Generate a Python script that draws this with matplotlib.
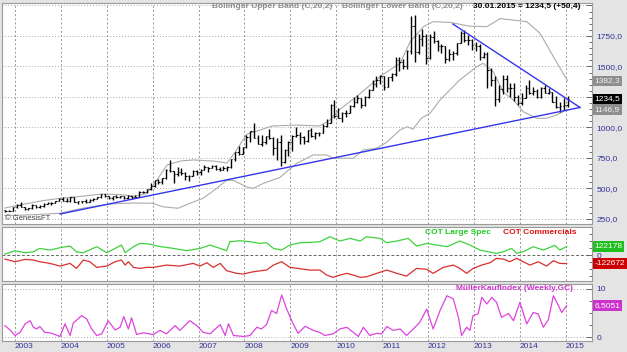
import matplotlib
matplotlib.use('Agg')
import matplotlib.pyplot as plt
from matplotlib.ticker import FixedLocator, FuncFormatter, NullFormatter
import numpy as np

plt.rcParams['font.family'] = ['Liberation Sans', 'DejaVu Sans']

# monthly gold bars, Oct 2002 .. Jan 2015
closes = [317, 318, 348,
          368, 347, 334, 337, 364, 346, 354, 375, 385, 384, 398, 416,
          400, 396, 427, 388, 394, 395, 391, 408, 416, 429, 453, 438,
          422, 435, 428, 436, 418, 436, 430, 434, 473, 470, 495, 518,
          569, 556, 583, 654, 643, 616, 633, 625, 599, 604, 647, 635,
          652, 672, 669, 683, 659, 650, 667, 673, 742, 795, 783, 838,
          926, 975, 917, 866, 885, 930, 913, 833, 880, 718, 816, 884,
          928, 942, 924, 891, 978, 927, 955, 955, 1008, 1040, 1182, 1096,
          1081, 1118, 1115, 1180, 1212, 1244, 1181, 1247, 1307, 1357, 1386, 1421,
          1332, 1411, 1439, 1556, 1536, 1500, 1628, 1829, 1620, 1725, 1746, 1566,
          1740, 1711, 1669, 1664, 1560, 1604, 1614, 1692, 1776, 1720, 1714, 1676,
          1664, 1578, 1598, 1472, 1392, 1234, 1313, 1396, 1327, 1324, 1253, 1202,
          1240, 1326, 1284, 1296, 1250, 1322, 1282, 1287, 1210, 1171, 1175, 1184,
          1234.5]
opens = [324, 317, 318,
         348, 368, 347, 334, 337, 364, 346, 354, 375, 385, 384, 398,
         416, 400, 396, 427, 388, 394, 395, 391, 408, 416, 429, 453,
         438, 422, 435, 428, 436, 418, 436, 430, 434, 473, 470, 495,
         518, 569, 556, 583, 654, 643, 616, 633, 625, 599, 604, 647,
         635, 652, 672, 669, 683, 659, 650, 667, 673, 742, 795, 783,
         838, 926, 975, 917, 866, 885, 930, 913, 833, 880, 718, 816,
         884, 928, 942, 924, 891, 978, 927, 955, 955, 1008, 1040, 1182,
         1096, 1081, 1118, 1115, 1180, 1212, 1244, 1181, 1247, 1307, 1357, 1386,
         1421, 1332, 1411, 1439, 1556, 1536, 1500, 1628, 1829, 1620, 1725, 1746,
         1566, 1740, 1711, 1669, 1664, 1560, 1604, 1614, 1692, 1776, 1720, 1714,
         1676, 1664, 1578, 1598, 1472, 1392, 1234, 1313, 1396, 1327, 1324, 1253,
         1202, 1240, 1326, 1284, 1296, 1250, 1322, 1282, 1287, 1210, 1171, 1175,
         1184]
highs = [326, 323, 350,
         372, 389, 352, 341, 372, 366, 368, 377, 391, 392, 400, 418,
         430, 418, 428, 428, 395, 396, 410, 414, 418, 433, 456, 458,
         440, 440, 448, 440, 438, 444, 438, 450, 478, 480, 498, 542,
         570, 574, 586, 660, 732, 646, 677, 664, 637, 609, 650, 652,
         656, 690, 673, 695, 693, 672, 686, 682, 745, 797, 848, 840,
         936, 975, 1033, 935, 938, 933, 989, 925, 914, 935, 825, 889,
         935, 1007, 963, 930, 982, 992, 960, 965, 1025, 1070, 1195, 1227,
         1162, 1128, 1141, 1181, 1249, 1265, 1245, 1254, 1314, 1388, 1424, 1432,
         1424, 1414, 1448, 1575, 1577, 1561, 1632, 1912, 1923, 1763, 1803, 1764,
         1764, 1791, 1720, 1680, 1669, 1641, 1630, 1694, 1790, 1798, 1755, 1723,
         1697, 1682, 1617, 1616, 1488, 1424, 1348, 1434, 1434, 1362, 1361, 1267,
         1280, 1345, 1392, 1331, 1315, 1332, 1345, 1325, 1294, 1256, 1205, 1239,
         1260]
lows = [311, 315, 316,
        343, 345, 322, 320, 336, 344, 341, 351, 372, 367, 377, 398,
        399, 391, 389, 386, 371, 381, 385, 388, 398, 410, 425, 431,
        415, 409, 425, 422, 414, 415, 417, 430, 433, 463, 465, 491,
        516, 539, 540, 581, 636, 542, 606, 612, 573, 560, 604, 613,
        608, 651, 637, 668, 652, 641, 649, 645, 670, 727, 774, 781,
        832, 884, 913, 862, 850, 861, 906, 776, 736, 681, 705, 765,
        808, 919, 865, 867, 883, 920, 905, 933, 951, 1003, 1033, 1075,
        1074, 1045, 1088, 1115, 1166, 1202, 1157, 1179, 1242, 1307, 1330, 1357,
        1309, 1330, 1380, 1420, 1462, 1478, 1478, 1604, 1535, 1600, 1666, 1523,
        1564, 1689, 1627, 1613, 1527, 1548, 1556, 1590, 1690, 1702, 1672, 1636,
        1626, 1555, 1566, 1321, 1338, 1180, 1208, 1271, 1291, 1251, 1221, 1181,
        1182, 1238, 1277, 1268, 1240, 1240, 1281, 1273, 1206, 1161, 1130, 1141,
        1168]

# Bollinger bands (C,20,2)
upper_t = [2002.78, 2003.2, 2003.6, 2004.0, 2004.5, 2004.9, 2005.3, 2005.6, 2005.85,
           2006.0, 2006.2, 2006.31, 2006.6, 2006.88, 2007.31, 2007.62, 2007.8, 2008.05,
           2008.27, 2008.6, 2009.14, 2009.64, 2009.86, 2010.08, 2010.44, 2010.66, 2011.0,
           2011.39, 2011.61, 2011.9, 2012.11, 2012.5, 2012.9, 2013.28, 2013.57, 2013.85,
           2014.15, 2014.44, 2014.73, 2015.04]
upper_v = [340, 372, 400, 420, 438, 455, 450, 438, 455,
           520, 630, 692, 725, 734, 725, 709, 800, 945,
           970, 1012, 1020, 1012, 1061, 1149, 1253, 1322, 1430,
           1526, 1703, 1826, 1867, 1860, 1830, 1826, 1892, 1880,
           1867, 1771, 1580, 1382]
lower_t = [2002.78, 2003.2, 2003.61, 2003.98, 2004.5, 2005.07, 2005.57, 2006.0, 2006.22,
           2006.55, 2006.88, 2007.1, 2007.39, 2007.6, 2007.75, 2008.05, 2008.2, 2008.41,
           2008.77, 2008.92, 2009.14, 2009.5, 2009.79, 2009.93, 2010.37, 2010.59, 2010.88,
           2011.1, 2011.39, 2011.55, 2011.67, 2011.85, 2012.04, 2012.26, 2012.69, 2013.06,
           2013.2, 2013.42, 2013.64, 2013.86, 2014.07, 2014.37, 2014.58, 2014.8, 2015.04]
lower_v = [280, 282, 289, 297, 340, 373, 381, 379, 350,
           338, 389, 420, 500, 565, 568, 512, 502, 542,
           590, 638, 707, 775, 775, 748, 748, 816, 830,
           880, 980, 1006, 985, 1075, 1116, 1225, 1390, 1498,
           1526, 1457, 1290, 1225, 1130, 1075, 1075, 1102, 1147]

# drawn trend lines
trend_low_t = [2003.98, 2015.31]
trend_low_v = [291, 1164]
trend_high_t = [2012.54, 2015.31]
trend_high_v = [1848, 1164]

# COT net positions (contracts)
spec_t = [2002.78, 2003.0, 2003.22, 2003.4, 2003.54, 2003.76, 2003.98, 2004.2, 2004.34,
          2004.49, 2004.78, 2005.0, 2005.18, 2005.32, 2005.4, 2005.58, 2005.72, 2005.94,
          2006.09, 2006.45, 2006.74, 2007.03, 2007.25, 2007.47, 2007.61, 2007.68, 2007.9,
          2008.12, 2008.34, 2008.48, 2008.63, 2008.81, 2008.99, 2009.21, 2009.43, 2009.64,
          2009.86, 2010.08, 2010.3, 2010.52, 2010.66, 2010.95, 2011.1, 2011.32, 2011.57,
          2011.75, 2011.97, 2012.19, 2012.41, 2012.69, 2012.91, 2013.13, 2013.49, 2013.64,
          2013.82, 2013.93, 2014.07, 2014.29, 2014.51, 2014.76, 2014.87, 2015.02]
spec_v = [14000, 61000, 33000, 47000, 95000, 71000, 105000, 128000, 47000,
          33000, 119000, 33000, 95000, 143000, 33000, 119000, 166000, 157000,
          128000, 95000, 62000, 95000, 143000, 95000, 62000, 190000, 204000,
          190000, 166000, 176000, 95000, 71000, 143000, 176000, 180000, 190000,
          261000, 200000, 238000, 200000, 261000, 238000, 176000, 200000, 238000,
          128000, 166000, 143000, 119000, 200000, 143000, 71000, 24000, 47000,
          95000, 24000, 47000, 119000, 71000, 138000, 71000, 122178]
comm_t = [2002.78, 2003.0, 2003.22, 2003.4, 2003.54, 2003.76, 2003.98, 2004.2, 2004.34,
          2004.49, 2004.63, 2004.78, 2005.0, 2005.18, 2005.32, 2005.4, 2005.47, 2005.58,
          2005.72, 2005.87, 2006.01, 2006.3, 2006.59, 2006.88, 2007.03, 2007.18, 2007.32,
          2007.47, 2007.61, 2007.83, 2007.97, 2008.19, 2008.48, 2008.63, 2008.81, 2008.99,
          2009.21, 2009.43, 2009.64, 2009.79, 2009.93, 2010.08, 2010.23, 2010.37, 2010.52,
          2010.66, 2010.88, 2011.1, 2011.32, 2011.53, 2011.75, 2011.97, 2012.11, 2012.33,
          2012.55, 2012.69, 2012.84, 2012.98, 2013.17, 2013.35, 2013.49, 2013.64, 2013.78,
          2013.93, 2014.07, 2014.22, 2014.4, 2014.58, 2014.73, 2014.87, 2015.02]
comm_v = [-57000, -95000, -62000, -71000, -95000, -119000, -157000, -119000, -190000,
          -71000, -95000, -176000, -157000, -95000, -71000, -143000, -95000, -176000,
          -190000, -176000, -176000, -143000, -157000, -119000, -157000, -109000, -176000,
          -119000, -223000, -261000, -271000, -238000, -214000, -143000, -95000, -176000,
          -195000, -214000, -214000, -285000, -318000, -285000, -261000, -285000, -318000,
          -309000, -261000, -214000, -261000, -300000, -190000, -204000, -261000, -176000,
          -143000, -190000, -261000, -190000, -143000, -109000, -47000, -57000, -95000,
          -47000, -95000, -143000, -95000, -157000, -81000, -119000, -122672]

# MuellerKaufIndex (Weekly, GC)
mk_t = [2002.78, 2002.89, 2003.0, 2003.11, 2003.22, 2003.33, 2003.4, 2003.47, 2003.54,
        2003.65, 2003.76, 2003.83, 2003.98, 2004.09, 2004.2, 2004.27, 2004.45, 2004.56,
        2004.67, 2004.78, 2004.89, 2005.03, 2005.18, 2005.29, 2005.37, 2005.47, 2005.54,
        2005.65, 2005.8, 2006.01, 2006.16, 2006.3, 2006.49, 2006.59, 2006.81, 2006.96,
        2007.1, 2007.25, 2007.47, 2007.58, 2007.65, 2007.76, 2007.98, 2008.12, 2008.27,
        2008.37, 2008.48, 2008.59, 2008.7, 2008.81, 2008.92, 2009.06, 2009.17, 2009.32,
        2009.5, 2009.64, 2009.75, 2009.93, 2010.08, 2010.23, 2010.37, 2010.48, 2010.59,
        2010.73, 2010.88, 2010.99, 2011.1, 2011.24, 2011.39, 2011.53, 2011.68, 2011.82,
        2011.97, 2012.11, 2012.26, 2012.41, 2012.55, 2012.66, 2012.73, 2012.84, 2012.91,
        2012.98, 2013.09, 2013.17, 2013.28, 2013.39, 2013.49, 2013.6, 2013.75, 2013.86,
        2014.0, 2014.15, 2014.29, 2014.4, 2014.51, 2014.62, 2014.73, 2014.84, 2014.91,
        2015.02]
mk_v = [2.4, 1.5, 0.35, 1.0, 2.75, 3.4, 2.05, 1.7, 2.2,
        1.0, 0.9, 0.7, 0.15, 2.75, 0.35, 2.9, 4.45, 3.8,
        1.7, 0.35, 0.7, 3.4, 1.5, 2.05, 4.25, 1.7, 4.0,
        0.55, 0.9, 0.55, 1.4, 0.7, 2.4, 1.4, 3.4, 2.4,
        1.0, 0.7, 2.6, 0.35, 2.75, 0.35, 0.15, 0.35, 2.05,
        1.7, 2.6, 5.5, 4.9, 8.7, 5.8, 2.75, 0.8, 2.25,
        1.4, 1.0, 0.35, 0.7, 1.7, 2.05, 1.0, 0.15, 2.05,
        0.35, 0.8, 0.7, 2.2, 1.4, 1.7, 0.35, 1.7, 3.1,
        5.8, 1.7, 5.5, 8.55, 7.9, 4.1, 0.35, 2.05, 1.4,
        4.45, 4.8, 8.2, 6.85, 8.2, 7.2, 4.1, 4.9, 3.4,
        7.2, 2.75, 5.1, 4.8, 2.05, 3.6, 8.55, 6.5, 5.1,
        6.5051]

years = list(range(2003, 2016))
price_ticks = [250, 500, 750, 1000, 1250, 1500, 1750, 2000]

W, H = 627, 352
fig = plt.figure(figsize=(W / 100, H / 100), dpi=100)
fig.patch.set_facecolor('#e4e4e4')

def panel(top, bottom):
    return fig.add_axes([2 / W, (H - bottom) / H, 590 / W, (bottom - top) / H])

ax = panel(3, 224)
ax2 = panel(227, 281)
ax3 = panel(284, 340.5)

blue = '#333399'
for a in (ax, ax2, ax3):
    a.set_xlim(2002.717, 2015.571)
    a.set_facecolor('white')
    for s in a.spines.values():
        s.set_color('#9a9a9a')
        s.set_linewidth(0.8)
    a.set_xticks(years)
    a.grid(axis='x', color='#8a8a8a', lw=0.6, ls=(0, (2.5, 2.5)))
    a.yaxis.tick_right()
    a.tick_params(axis='y', which='major', direction='in', length=4, width=0.6,
                  color='#555555', labelsize=6, labelcolor=blue, pad=3)
    a.tick_params(axis='y', which='minor', direction='in', length=2.5, width=0.6,
                  color='#555555')
    a.tick_params(axis='x', length=0, labelbottom=False)

# --- main price panel ---
t = 2002 + (9.5 + np.arange(len(closes))) / 12
ax.set_ylim(209, 2020)
ax.yaxis.set_major_locator(FixedLocator(price_ticks))
ax.yaxis.set_minor_locator(FixedLocator(np.arange(250, 2001, 50)))
ax.yaxis.set_major_formatter(FuncFormatter(
    lambda v, p: '' if v >= 2000 else f'{v:.1f}'.replace('.', ',')))
ax.grid(axis='y', color='#8a8a8a', lw=0.6, ls=(0, (1, 2.5)))

ax.plot(upper_t, upper_v, color='#ababab', lw=0.8)
ax.plot(lower_t, lower_v, color='#ababab', lw=0.8)
ax.vlines(t, lows, highs, color='black', lw=1.0)
ax.hlines(opens, t - 0.03, t, color='black', lw=0.8)
ax.hlines(closes, t, t + 0.03, color='black', lw=0.8)
ax.plot(trend_low_t, trend_low_v, color='#3535ee', lw=1.0)
ax.plot(trend_high_t, trend_high_v, color='#3535ee', lw=1.0)

ax.text(210 / 590, 1 - 4 / 221, 'Bollinger Upper Band (C,20,2)', transform=ax.transAxes,
        fontsize=6, fontweight='bold', color='#8c8c8c', va='center', ha='left')
ax.text(340 / 590, 1 - 4 / 221, 'Bollinger Lower Band (C,20,2)', transform=ax.transAxes,
        fontsize=6, fontweight='bold', color='#8c8c8c', va='center', ha='left')
ax.text(471 / 590, 1 - 4 / 221, '30.01.2015 = 1234,5 (+50,4)', transform=ax.transAxes,
        fontsize=6, fontweight='bold', color='black', va='center', ha='left')
ax.text(3 / 590, 5 / 221, '\u00a9 GenesisFT', transform=ax.transAxes,
        fontsize=5.5, color='#444444', va='center', ha='left')

def tag(a, v, text, bg, fg='white'):
    a.annotate(text, xy=(1, v), xycoords=('axes fraction', 'data'), xytext=(2, 0),
               textcoords='offset points', ha='left', va='center', fontsize=6, color=fg,
               bbox=dict(boxstyle='square,pad=0.2', fc=bg, ec='none'),
               annotation_clip=False, zorder=5)

tag(ax, upper_v[-1], '1382,3', '#8e8e8e', '#f0f0f0')
tag(ax, closes[-1], '1234,5', '#000000')
tag(ax, lower_v[-1], '1146,9', '#8e8e8e', '#f0f0f0')

# --- COT panel ---
ax2.set_ylim(-370000, 400000)
ax2.yaxis.set_major_locator(FixedLocator([0]))
ax2.yaxis.set_minor_locator(FixedLocator([-300000, -200000, -100000, 100000, 200000, 300000]))
ax2.yaxis.set_major_formatter(FuncFormatter(lambda v, p: '0'))
ax2.axhline(0, color='#666666', lw=0.7, ls=(0, (3, 2)))
ax2.plot(spec_t, spec_v, color='#3fd23f', lw=0.9)
ax2.plot(comm_t, comm_v, color='#d83030', lw=0.9)
ax2.text(423 / 590, 1 - 5 / 54, 'COT Large Spec', transform=ax2.transAxes, fontsize=6,
         fontweight='bold', color='#22cc22', va='center', ha='left')
ax2.text(501 / 590, 1 - 5 / 54, 'COT Commercials', transform=ax2.transAxes, fontsize=6,
         fontweight='bold', color='#dd1111', va='center', ha='left')
tag(ax2, spec_v[-1], '122178', '#1fbf1f')
tag(ax2, comm_v[-1], '-122672', '#cc0000')

# --- Mueller panel ---
ax3.set_ylim(-0.68, 10.97)
ax3.yaxis.set_major_locator(FixedLocator([0, 10]))
ax3.yaxis.set_minor_locator(FixedLocator([2.5, 5, 7.5]))
ax3.yaxis.set_major_formatter(FuncFormatter(lambda v, p: f'{v:.0f}'))
ax3.grid(axis='y', color='#8a8a8a', lw=0.6, ls=(0, (1, 2.5)))
ax3.plot(mk_t, mk_v, color='#dd44dd', lw=0.9)
ax3.text(454 / 590, 1 - 5 / 56.5, 'M\u00fcllerKaufIndex (Weekly,GC)', transform=ax3.transAxes,
         fontsize=6, fontweight='bold', color='#cc33cc', va='center', ha='left')
tag(ax3, mk_v[-1], '6,5051', '#cc33cc')

ax3.tick_params(axis='x', labelbottom=True, labelsize=6, labelcolor=blue, pad=2)
ax3.set_xticklabels([str(y) for y in years], ha='left')

fig.savefig('out.png', dpi=100, facecolor=fig.get_facecolor())
